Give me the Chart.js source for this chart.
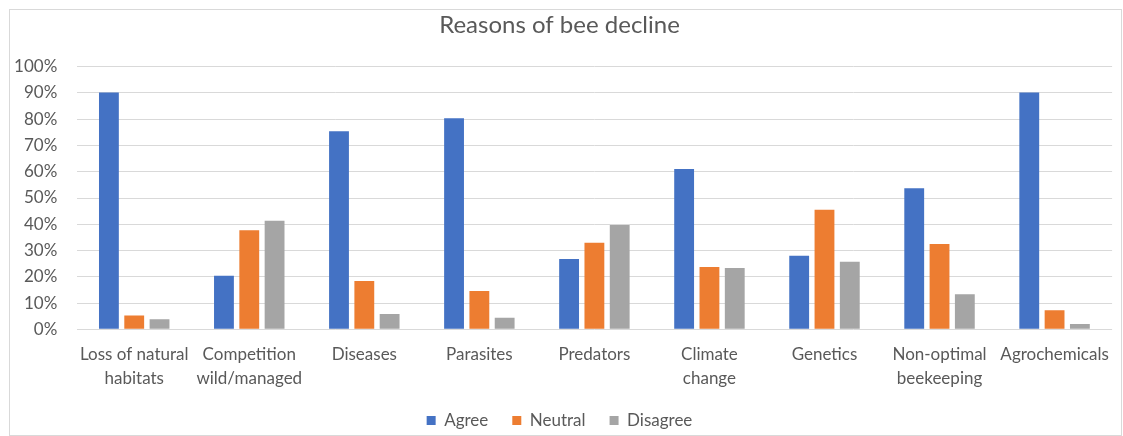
<!DOCTYPE html>
<html>
<head>
<meta charset="utf-8">
<title>Reasons of bee decline</title>
<script src="https://cdn.jsdelivr.net/npm/chart.js@4.4.0/dist/chart.umd.min.js"></script>
<style>
  html, body { margin: 0; padding: 0; background: #ffffff; }
  #wrap { position: relative; width: 1123px; height: 436px; }
</style>
</head>
<body>
<div id="wrap"><canvas id="chart" width="1123" height="436"></canvas></div>
<script>
// Survey answers per reason, in percent of respondents
const categories = [
  ['Loss of natural', 'habitats'],
  ['Competition', 'wild/managed'],
  'Diseases',
  'Parasites',
  'Predators',
  ['Climate', 'change'],
  'Genetics',
  ['Non-optimal', 'beekeeping'],
  'Agrochemicals'
];
const agree    = [90.2, 20.4, 75.4, 80.4, 26.8, 61.0, 28.0, 53.7, 90.2];
const neutral  = [5.3, 37.7, 18.4, 14.6, 33.0, 23.7, 45.5, 32.5, 7.3];
const disagree = [3.8, 41.3, 5.8, 4.4, 39.7, 23.3, 25.7, 13.3, 2.0];
const seriesNames = ['Agree', 'Neutral', 'Disagree'];
const yTickMax = 100;
const yTickStep = 10;

const TEXT = '#595959';
const GRID = '#d9d9d9';
const FONT = 'Lato, "Open Sans", sans-serif';

// thin frame around the whole chart
const framePlugin = {
  id: 'frame',
  afterDraw(chart) {
    const c = chart.ctx;
    c.save();
    c.strokeStyle = GRID;
    c.lineWidth = 1;
    c.strokeRect(9.5, 9.5, 1112, 426);
    c.restore();
  }
};

new Chart(document.getElementById('chart'), {
  type: 'bar',
  data: {
    labels: categories,
    datasets: [
      { label: seriesNames[0], data: agree,    backgroundColor: '#4472C4' },
      { label: seriesNames[1], data: neutral,  backgroundColor: '#ED7D31' },
      { label: seriesNames[2], data: disagree, backgroundColor: '#A5A5A5' }
    ]
  },
  options: {
    responsive: false,
    animation: false,
    devicePixelRatio: 1,
    layout: { padding: { left: 0, right: 4, top: 0, bottom: -3 } },
    datasets: {
      bar: { categoryPercentage: 0.66, barPercentage: 0.784, borderWidth: 0 }
    },
    plugins: {
      title: {
        display: true,
        text: 'Reasons of bee decline',
        color: TEXT,
        font: { family: FONT, size: 24, weight: 'normal', lineHeight: 1.2 },
        padding: { top: 10.6, bottom: 27.3 }
      },
      legend: {
        display: true,
        position: 'bottom',
        labels: {
          color: TEXT,
          font: { family: FONT, size: 17 },
          boxWidth: 9,
          boxHeight: 9,
          padding: 24
        }
      },
      tooltip: { enabled: false }
    },
    scales: {
      x: {
        offset: true,
        grid: { display: false, drawTicks: false },
        border: { display: false },
        ticks: {
          color: TEXT,
          font: { family: FONT, size: 17, lineHeight: 1.37 },
          padding: 14,
          maxRotation: 0,
          minRotation: 0,
          autoSkip: false
        },
        afterFit(scale) { scale.height = 58.7; }
      },
      y: {
        min: 0,
        max: yTickMax,
        grid: { color: GRID, lineWidth: 1, drawTicks: false },
        border: { display: false },
        ticks: {
          stepSize: yTickStep,
          color: TEXT,
          font: { family: FONT, size: 17 },
          padding: 19.4,
          callback: v => v + '%'
        },
        afterFit(scale) { scale.width = 76.7; }
      }
    }
  },
  plugins: [framePlugin]
});
</script>
</body>
</html>
